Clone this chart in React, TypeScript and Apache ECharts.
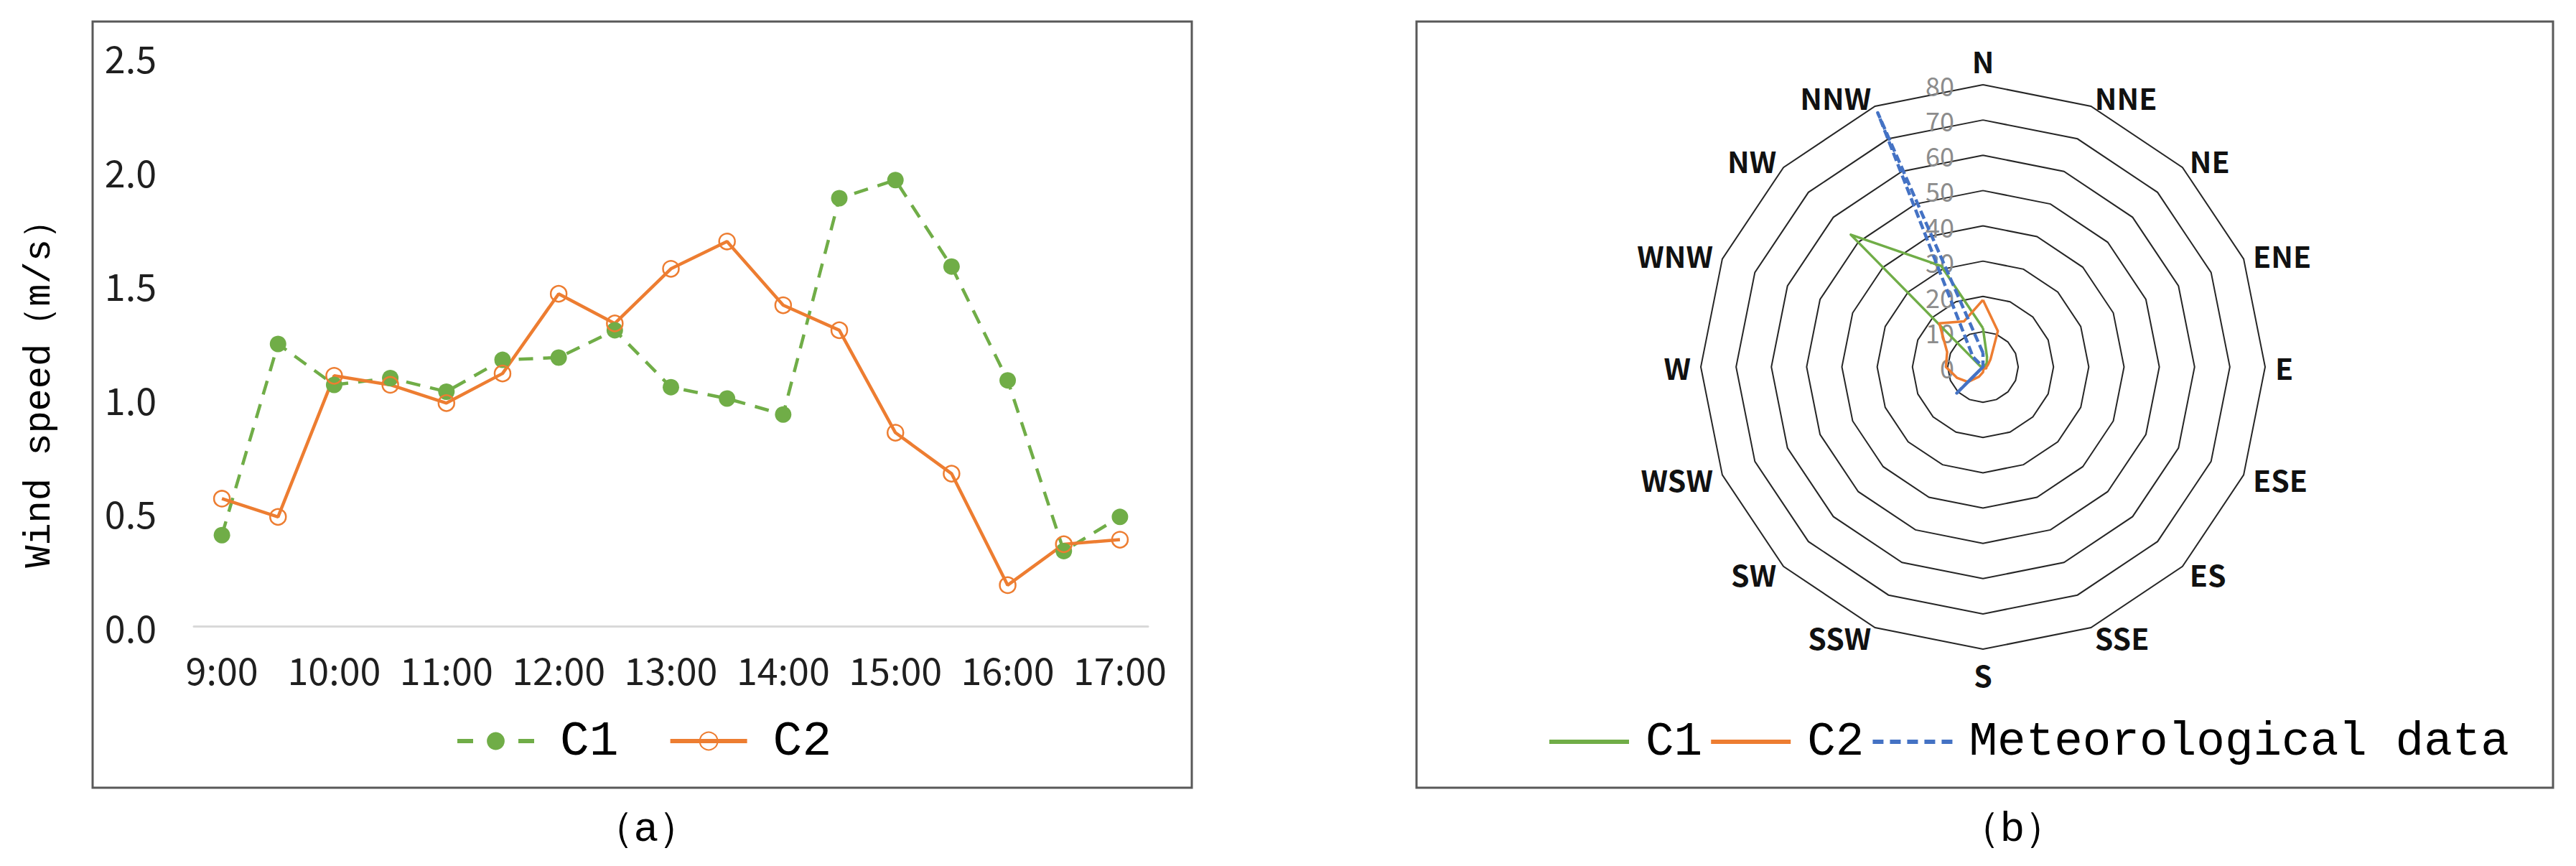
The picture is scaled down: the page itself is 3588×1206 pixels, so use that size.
import React, { useEffect, useRef } from 'react';
import * as echarts from 'echarts';

// ---------- data: panel (a) ----------
const TIMES = ['9:00', '9:30', '10:00', '10:30', '11:00', '11:30', '12:00', '12:30', '13:00', '13:30', '14:00', '14:30', '15:00', '15:30', '16:00', '16:30', '17:00'];
const C1_SPEED = [0.40, 1.24, 1.06, 1.09, 1.03, 1.17, 1.18, 1.30, 1.05, 1.00, 0.93, 1.88, 1.96, 1.58, 1.08, 0.33, 0.48];
const C2_SPEED = [0.56, 0.48, 1.10, 1.06, 0.98, 1.11, 1.46, 1.33, 1.57, 1.69, 1.41, 1.30, 0.85, 0.67, 0.18, 0.36, 0.38];
const Y_MIN = 0;
const Y_MAX = 2.5;
const Y_STEP = 0.5;

// ---------- data: panel (b), clockwise from N ----------
const DIRECTIONS = ['N', 'NNE', 'NE', 'ENE', 'E', 'ESE', 'ES', 'SSE', 'S', 'SSW', 'SW', 'WSW', 'W', 'WNW', 'NW', 'NNW'];
const C1_DIR = [11, 3, 1.5, 0.5, 0.5, 0.5, 0.5, 0.5, 0.5, 0.5, 0.5, 0.5, 0.5, 1, 53, 31];
const C2_DIR = [19, 11, 3, 1.5, 1, 1, 0.5, 0.5, 1.5, 3, 6, 8, 10.5, 11, 17.5, 14];
const MET_DIR = [4, 0, 0, 0, 0, 0, 0, 0, 0, 0, 10.5, 0, 0, 0, 4, 78];
const RADAR_MAX = 80;
const RADAR_SPLITS = 8;

const GREEN = '#70AD47';
const ORANGE = '#ED7D31';
const BLUE = '#4472C4';
const SANS = '"Noto Sans CJK SC", "Noto Sans", sans-serif';
const MONO = '"Liberation Mono", "DejaVu Sans Mono", monospace';

// ECharts lays radar indicators counter-clockwise; reorder so they run clockwise
const ccw = <T,>(arr: T[]): T[] => arr.map((_, i) => arr[(arr.length - i) % arr.length]);

const DASH_ICON = 'path://M0,0h15v6h-15z M24,0h15v6h-15z M48,0h15v6h-15z M72,0h15v6h-15z M96,0h15v6h-15z';

function buildOption() {
  return {
    animation: false,
    backgroundColor: '#ffffff',
    graphic: [
      { type: 'rect', z: -10, shape: { x: 129, y: 30, width: 1531, height: 1067 }, style: { fill: 'none', stroke: '#595959', lineWidth: 3 } },
      { type: 'rect', z: -10, shape: { x: 1973, y: 30, width: 1583, height: 1067 }, style: { fill: 'none', stroke: '#595959', lineWidth: 3 } },
      {
        type: 'text', x: 55, y: 536, rotation: Math.PI / 2,
        style: { text: 'Wind speed（m/s）', fontSize: 52, fontFamily: MONO, fill: '#000', align: 'center', verticalAlign: 'middle', textAlign: 'center', textVerticalAlign: 'middle' },
      },
      {
        type: 'text', x: 900, y: 1155,
        style: { text: '（a）', fontSize: 58, fontFamily: MONO, fill: '#000', align: 'center', verticalAlign: 'middle', textAlign: 'center', textVerticalAlign: 'middle' },
      },
      {
        type: 'text', x: 2803, y: 1155,
        style: { text: '（b）', fontSize: 58, fontFamily: MONO, fill: '#000', align: 'center', verticalAlign: 'middle', textAlign: 'center', textVerticalAlign: 'middle' },
      },
    ],
    grid: { left: 270, right: 1989, top: 79.5, bottom: 334, containLabel: false },
    xAxis: {
      type: 'category',
      data: TIMES,
      boundaryGap: true,
      axisLine: { lineStyle: { color: '#d9d9d9', width: 3 } },
      axisTick: { show: false },
      axisLabel: { interval: 1, margin: 33, fontSize: 52, fontFamily: SANS, color: '#1f1f1f' },
      splitLine: { show: false },
    },
    yAxis: {
      type: 'value',
      min: Y_MIN,
      max: Y_MAX,
      interval: Y_STEP,
      axisLine: { show: false },
      axisTick: { show: false },
      splitLine: { show: false },
      axisLabel: { margin: 52, fontSize: 52, fontFamily: SANS, color: '#1f1f1f', formatter: (v: number) => v.toFixed(1) },
    },
    legend: [
      {
        left: 634, top: 998, padding: 0, orient: 'horizontal',
        itemWidth: 107, itemHeight: 31, itemGap: 69,
        selectedMode: false,
        data: [
          { name: 'C1', lineStyle: { type: [22, 63], width: 6 } },
          { name: 'C2', lineStyle: { width: 6 } },
        ],
        textStyle: { fontFamily: MONO, fontSize: 68, color: '#000', padding: [0, 0, 0, 31] },
      },
      {
        left: 2158, top: 1000, padding: 0, orient: 'horizontal',
        itemWidth: 111, itemHeight: 6, itemGap: 12,
        selectedMode: false,
        data: [
          { name: 'C1', icon: 'rect', itemStyle: { color: GREEN, borderWidth: 0 } },
          { name: 'C2', icon: 'rect', itemStyle: { color: ORANGE, borderWidth: 0 } },
          { name: 'Meteorological data', icon: DASH_ICON, itemStyle: { color: BLUE, borderWidth: 0 } },
        ],
        textStyle: { fontFamily: MONO, fontSize: 66, color: '#000', padding: [0, 0, 0, 18] },
      },
    ],
    radar: {
      center: [2762, 511],
      radius: 393,
      startAngle: 90,
      splitNumber: RADAR_SPLITS,
      shape: 'polygon',
      indicator: ccw(DIRECTIONS).map((name, i) =>
        i === 0
          ? { name, min: 0, max: RADAR_MAX, axisLabel: { show: true, color: '#8c8c8c', fontSize: 36, fontFamily: SANS, margin: 40 } }
          : { name, min: 0, max: RADAR_MAX }
      ),
      axisName: { color: '#111111', fontSize: 41, fontWeight: 'bold', fontFamily: SANS },
      nameGap: 14,
      axisLine: { show: false },
      axisTick: { show: false },
      axisLabel: { show: false, color: '#8c8c8c', fontSize: 36, fontFamily: SANS, margin: 40 },
      splitLine: { lineStyle: { color: '#262626', width: 2 } },
      splitArea: { show: false },
    },
    series: [
      {
        name: 'C1', type: 'line', data: C1_SPEED,
        symbol: 'circle', symbolSize: 23,
        itemStyle: { color: GREEN },
        lineStyle: { color: GREEN, width: 4.5, type: [20, 14] },
      },
      {
        name: 'C2', type: 'line', data: C2_SPEED,
        symbol: 'circle', symbolSize: 22,
        itemStyle: { color: 'transparent', borderColor: ORANGE, borderWidth: 2.5 },
        lineStyle: { color: ORANGE, width: 4.5 },
      },
      {
        name: 'C1', type: 'radar', symbol: 'none',
        data: [{ name: 'C1', value: ccw(C1_DIR) }],
        itemStyle: { color: GREEN },
        lineStyle: { color: GREEN, width: 3.5 },
      },
      {
        name: 'C2', type: 'radar', symbol: 'none',
        data: [{ name: 'C2', value: ccw(C2_DIR) }],
        itemStyle: { color: ORANGE },
        lineStyle: { color: ORANGE, width: 3.5 },
      },
      {
        name: 'Meteorological data', type: 'radar', symbol: 'none',
        data: [{ name: 'Meteorological data', value: ccw(MET_DIR) }],
        itemStyle: { color: BLUE },
        lineStyle: { color: BLUE, width: 4.5, type: [12, 5] },
      },
    ],
  };
}

export default function App() {
  const ref = useRef<HTMLDivElement>(null);
  useEffect(() => {
    if (!ref.current) return;
    const chart = echarts.init(ref.current, null, { renderer: 'svg' });
    chart.setOption(buildOption() as any);
    return () => {
      chart.dispose();
    };
  }, []);
  return (
    <div
      ref={ref}
      style={{ position: 'absolute', left: 0, top: 0, width: 3588, height: 1206, background: '#ffffff' }}
    />
  );
}
